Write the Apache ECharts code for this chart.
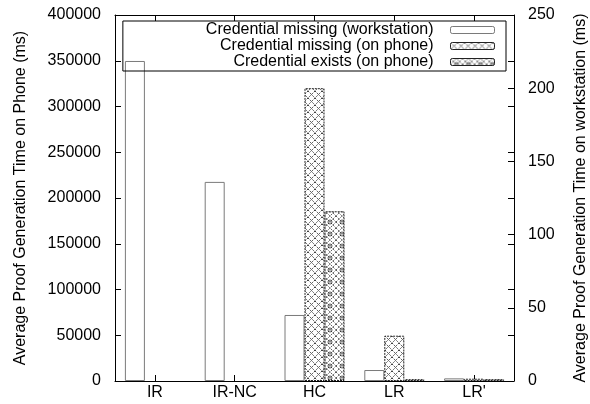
<!DOCTYPE html>
<html>
<head>
<meta charset="utf-8">
<script src="https://cdn.jsdelivr.net/npm/echarts@6/dist/echarts.min.js"></script>
<style>
  html, body { margin: 0; padding: 0; background: #fff; }
  #chart { width: 590px; height: 404px; }
</style>
</head>
<body>
<div id="chart"></div>
<script>
const categories = ['IR', 'IR-NC', 'HC', 'LR', "LR'"]
// workstation times are on the right axis (ms), phone times on the left axis (ms)
const workstation = [218.6, 136, 45.1, 7.5, 1.8]
const phoneMissing = [null, null, 320000, 49500, 2500]
const phoneExists = [null, null, 185500, 2000, 2000]
const phoneTicks = { min: 0, max: 400000, interval: 50000 }
const workstationTicks = { min: 0, max: 250, interval: 50 }

const font = 'Liberation Sans, Arial, sans-serif'

const makePattern = (size, width, draw) => {
  const c = document.createElement('canvas')
  c.width = size
  c.height = size
  const ctx = c.getContext('2d')
  ctx.fillStyle = '#fff'
  ctx.fillRect(0, 0, size, size)
  ctx.strokeStyle = '#111'
  ctx.lineWidth = width
  ctx.setLineDash([1.5, 1])
  draw(ctx, size)
  return { image: c, repeat: 'repeat' }
}

const crossHatch = makePattern(7, 0.8, (ctx, s) => {
  ctx.beginPath()
  ctx.moveTo(0, 0)
  ctx.lineTo(s, s)
  ctx.moveTo(s, 0)
  ctx.lineTo(0, s)
  ctx.stroke()
})

const diamondHatch = makePattern(12, 0.7, (ctx, s) => {
  const h = s / 2
  ctx.beginPath()
  ctx.moveTo(0, h)
  ctx.lineTo(h, 0)
  ctx.lineTo(s, h)
  ctx.lineTo(h, s)
  ctx.closePath()
  ctx.moveTo(0, 0)
  ctx.lineTo(s, s)
  ctx.moveTo(s, 0)
  ctx.lineTo(0, s)
  ctx.stroke()
  ctx.setLineDash([])
  ctx.beginPath()
  ctx.arc(h, h, 2, 0, Math.PI * 2)
  ctx.stroke()
})

const tickStyle = { show: true, inside: true, length: 6, lineStyle: { color: '#000' } }
const lineStyle = { show: true, onZero: false, lineStyle: { color: '#000', width: 1 } }
const labelStyle = { color: '#000', fontSize: 16, fontFamily: font }
const plain = (v) => String(v)

const chart = echarts.init(document.getElementById('chart'))

const option = {
  animation: false,
  grid: { left: 115, right: 76, top: 15, bottom: 23, outerBoundsMode: 'none' },
  legend: {
    orient: 'vertical',
    right: 84,
    top: 21,
    align: 'right',
    itemWidth: 44,
    itemHeight: 7,
    itemGap: 0,
    padding: [1, 11, 1, 83],
    borderColor: '#000',
    borderWidth: 1,
    selectedMode: false,
    itemStyle: { borderWidth: 1 },
    textStyle: { ...labelStyle, padding: [0, 12, 0, 0] },
    data: [
      'Credential missing (workstation)',
      'Credential missing (on phone)',
      'Credential exists (on phone)',
    ],
  },
  xAxis: [
    {
      type: 'category',
      data: categories,
      position: 'bottom',
      axisLine: lineStyle,
      axisTick: { ...tickStyle, alignWithLabel: true },
      axisLabel: { ...labelStyle, margin: 4 },
      splitLine: { show: false },
    },
    {
      type: 'category',
      data: categories,
      position: 'top',
      axisLine: lineStyle,
      axisTick: { ...tickStyle, alignWithLabel: true },
      axisLabel: { show: false },
      splitLine: { show: false },
    },
  ],
  yAxis: [
    {
      type: 'value',
      position: 'left',
      ...phoneTicks,
      name: 'Average Proof Generation Time on Phone (ms)',
      nameLocation: 'middle',
      nameGap: 86,
      nameTextStyle: labelStyle,
      axisLine: lineStyle,
      axisTick: tickStyle,
      axisLabel: { ...labelStyle, margin: 14, formatter: plain },
      splitLine: { show: false },
    },
    {
      type: 'value',
      position: 'right',
      ...workstationTicks,
      name: 'Average Proof Generation Time on workstation (ms)',
      nameLocation: 'middle',
      nameGap: 59,
      nameTextStyle: labelStyle,
      axisLine: lineStyle,
      axisTick: tickStyle,
      axisLabel: { ...labelStyle, margin: 14, formatter: plain },
      splitLine: { show: false },
    },
    {
      // mirror of the phone ticks on the right border
      type: 'value',
      position: 'right',
      ...phoneTicks,
      axisLine: { show: false },
      axisTick: tickStyle,
      axisLabel: { show: false },
      splitLine: { show: false },
    },
  ],
  series: [
    {
      name: 'Credential missing (workstation)',
      type: 'bar',
      yAxisIndex: 1,
      data: workstation,
      barWidth: 20,
      barGap: '0%',
      itemStyle: { color: '#fff', borderColor: '#7a7a7a', borderWidth: 1 },
      emphasis: { disabled: true },
    },
    {
      name: 'Credential missing (on phone)',
      type: 'bar',
      yAxisIndex: 0,
      data: phoneMissing,
      barWidth: 20,
      barGap: '0%',
      itemStyle: { color: crossHatch, borderColor: '#222', borderWidth: 1, borderType: [2, 1] },
      emphasis: { disabled: true },
    },
    {
      name: 'Credential exists (on phone)',
      type: 'bar',
      yAxisIndex: 0,
      data: phoneExists,
      barWidth: 20,
      barGap: '0%',
      itemStyle: { color: diamondHatch, borderColor: '#222', borderWidth: 1, borderType: [2, 1] },
      emphasis: { disabled: true },
    },
  ],
}

chart.setOption(option)
</script>
</body>
</html>
